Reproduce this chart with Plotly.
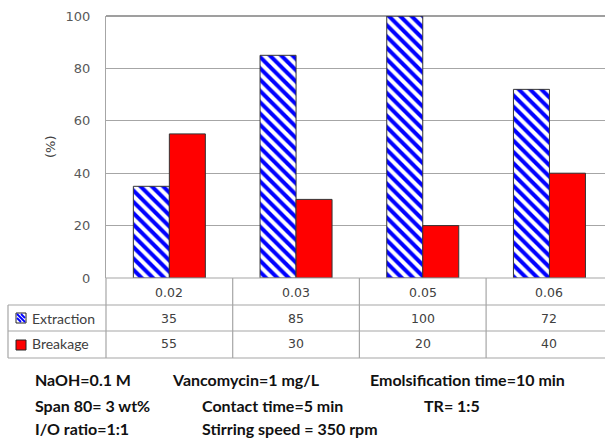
import plotly.graph_objects as go

categories = ["0.02", "0.03", "0.05", "0.06"]
extraction = [35, 85, 100, 72]
breakage = [55, 30, 20, 40]
series_names = ["Extraction", "Breakage"]
y_ticks = [0, 20, 40, 60, 80, 100]
y_title = "(%)"
notes = [
    ["NaOH=0.1 M", "Vancomycin=1 mg/L", "Emolsification time=10 min"],
    ["Span 80= 3 wt%", "Contact time=5 min", "TR= 1:5"],
    ["I/O ratio=1:1", "Stirring speed = 350 rpm"],
]
note_x = [[33, 170, 368], [33, 200, 422], [33, 200]]
note_y = [380, 405, 428]

W, H = 605, 438
L, T, B_PX = 106, 16, 278
PW = W - L
PH = B_PX - T
CAT_W = 126.7

def px(x):
    return (x - L) / PW

def py(y):
    return (B_PX - y) / PH

GRID = "#a6a6a6"
TXT = "#404040"

x_idx = list(range(len(categories)))

fig = go.Figure()
fig.add_trace(go.Bar(
    x=x_idx, y=extraction, name=series_names[0],
    marker=dict(color="white", line=dict(color="#333333", width=1),
                pattern=dict(shape="\\", fgcolor="#0000ff", bgcolor="white",
                             size=8, solidity=0.5, fillmode="replace")),
))
fig.add_trace(go.Bar(
    x=x_idx, y=breakage, name=series_names[1],
    marker=dict(color="#ff0000", line=dict(color="#333333", width=1)),
))

fig.update_layout(
    width=W, height=H,
    margin=dict(l=L, r=0, t=T, b=H - B_PX, pad=0),
    plot_bgcolor="white", paper_bgcolor="white",
    barmode="group", bargap=1 - 2 * 36 / CAT_W, bargroupgap=0,
    showlegend=False,
    font=dict(family="DejaVu Sans", size=13, color="#595959"),
)
fig.update_xaxes(range=[-0.5, -0.5 + PW / CAT_W], showticklabels=False,
                 showgrid=False, zeroline=False, showline=False, ticks="")
fig.update_yaxes(range=[0, 100], tickvals=y_ticks, showgrid=True,
                 gridcolor=GRID, gridwidth=1, zeroline=False,
                 showline=True, linecolor=GRID, linewidth=1,
                 ticks="", ticklabelstandoff=12,
                 tickfont=dict(family="DejaVu Sans", size=13, color="#595959"))

shapes = []
shapes.append(dict(type="line", xref="paper", yref="paper", x0=0, x1=1.05, y0=1, y1=1,
                   line=dict(color="#404040", width=1.2)))
shapes.append(dict(type="line", xref="paper", yref="paper", x0=0, x1=1.05, y0=0, y1=0,
                   line=dict(color=GRID, width=1.2)))
for yy in [305, 331, 358]:
    shapes.append(dict(type="line", xref="paper", yref="paper", x0=px(8), x1=1.05,
                       y0=py(yy), y1=py(yy), line=dict(color=GRID, width=1.2)))
shapes.append(dict(type="line", xref="paper", yref="paper", x0=px(8), x1=px(8),
                   y0=py(305), y1=py(358), line=dict(color=GRID, width=1.2)))
for i in range(len(categories)):
    xb = L + i * CAT_W
    shapes.append(dict(type="line", xref="paper", yref="paper", x0=px(xb), x1=px(xb),
                       y0=0, y1=py(358), line=dict(color=GRID, width=1.2)))
# legend keys
shapes.append(dict(type="rect", xref="paper", yref="paper", x0=px(16), x1=px(26),
                   y0=py(313), y1=py(323), fillcolor="white", line=dict(color="#222", width=1)))
for (a0, b0, a1, b1) in [(17, 314, 25, 322), (17, 318, 21, 322), (21, 314, 25, 318)]:
    shapes.append(dict(type="line", xref="paper", yref="paper",
                       x0=px(a0), x1=px(a1), y0=py(b0), y1=py(b1),
                       line=dict(color="#0000ff", width=1.8)))
shapes.append(dict(type="rect", xref="paper", yref="paper", x0=px(16), x1=px(26),
                   y0=py(340), y1=py(350), fillcolor="#ff0000", line=dict(color="#222", width=1)))
fig.update_layout(shapes=shapes)

ann = []
ann.append(dict(text=y_title, xref="paper", yref="paper", x=px(50), y=py(147),
                xanchor="center", yanchor="middle",
                textangle=-90, showarrow=False,
                font=dict(family="DejaVu Sans", size=13, color="#404040")))
row_y = [292, 318, 344]
for i, c in enumerate(categories):
    for r, txt in enumerate([c, str(extraction[i]), str(breakage[i])]):
        ann.append(dict(text=txt, xref="x", yref="paper", x=i, y=py(row_y[r]),
                        xanchor="center", yanchor="middle", showarrow=False,
                        font=dict(family="DejaVu Sans", size=12.5, color=TXT)))
for j, nm in enumerate(series_names):
    ann.append(dict(text=nm, xref="paper", yref="paper", x=px(30), y=py(row_y[j + 1]),
                    xanchor="left", yanchor="middle", showarrow=False,
                    font=dict(family="Lato", size=14, color=TXT)))
for r, line in enumerate(notes):
    for k, t in enumerate(line):
        ann.append(dict(text="<b>" + t + "</b>", xref="paper", yref="paper",
                        x=px(note_x[r][k]), y=py(note_y[r]),
                        xanchor="left", yanchor="middle", showarrow=False,
                        font=dict(family="Lato", size=16, color="#111111")))
fig.update_layout(annotations=ann)

fig.write_html("out.html")
